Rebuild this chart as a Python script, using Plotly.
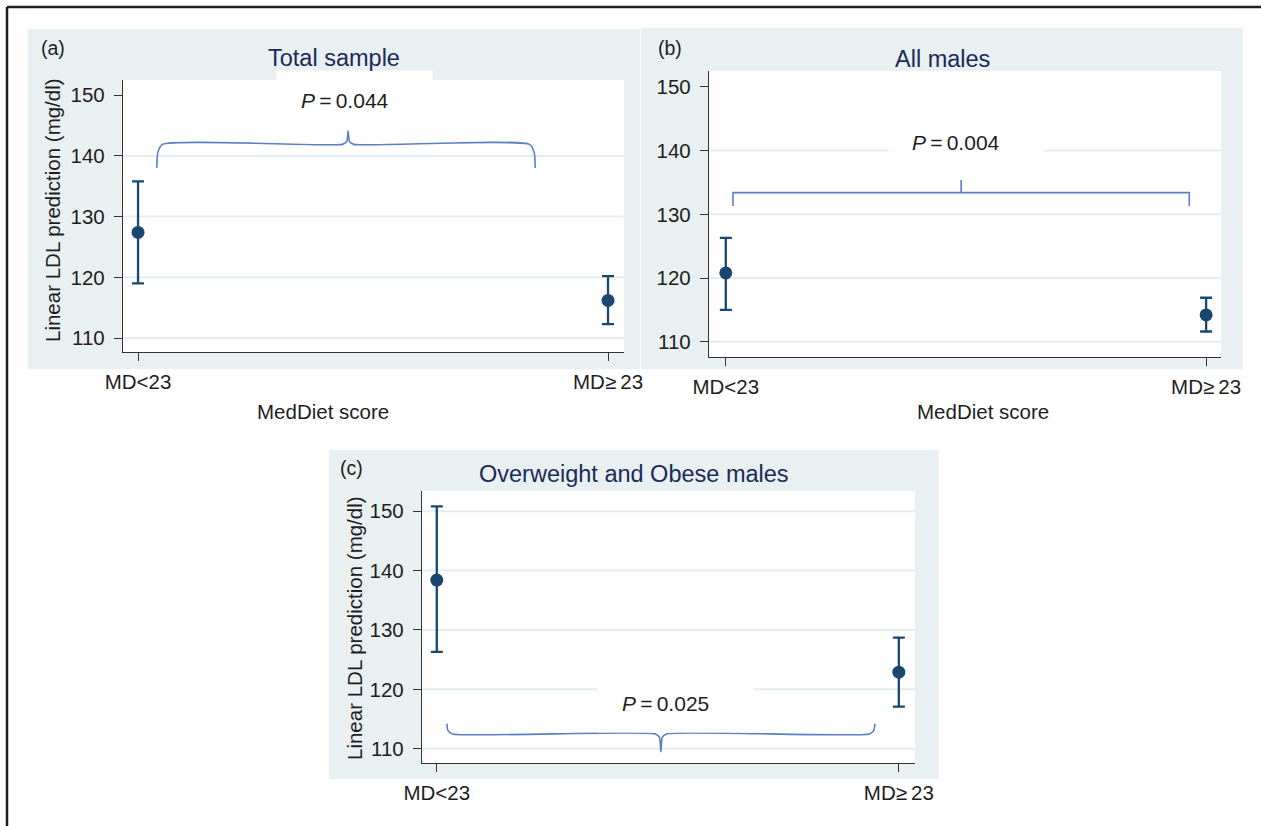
import plotly.graph_objects as go

# ---------------- data ----------------
categories = ["MD<23", "MD\u2265\u200923"]
cat_pos = [0, 1]
y_ticks = [110, 120, 130, 140, 150]

mean_a = [127.4, 116.2]
upper_a = [135.8, 120.2]
lower_a = [119.0, 112.3]

mean_b = [120.8, 114.2]
upper_b = [126.3, 116.9]
lower_b = [115.0, 111.6]

mean_c = [138.4, 122.9]
upper_c = [150.8, 128.7]
lower_c = [126.3, 117.1]

titles = ["Total sample", "All males", "Overweight and Obese males"]
panel_tags = ["(a)", "(b)", "(c)"]
p_labels = ["0.044", "0.004", "0.025"]
# P-value label positions (x in category units, y in mg/dl)
p_x = [0.44, 0.48, 0.495]
p_y = [149.2, 141.2, 117.7]
# brackets: left, right, centre, level, end, tip
bracket_a = [0.04, 0.845, 0.447, 141.9, 138.0, 144.1]
bracket_b = [0.015, 0.965, 0.49, 133.4, 131.3, 135.4]
bracket_c = [0.022, 0.948, 0.485, 112.5, 114.2, 109.5]
grid_a = [110, 120, 130, 140]
grid_b = [110, 120, 130, 140]
grid_c = [110, 120, 130, 140, 150]

# ---------------- style ----------------
W, H = 1261, 826
FONT = "Liberation Sans, Arial, Helvetica, sans-serif"
NAVY = "#1a476f"
BRACKET = "#5b7fc2"
BG = "#e8f0f2"
GRID = "#e4eef0"
TITLE_C = "#1c2a58"
TXT = "#1e1e1e"

def px(x):
    return x / W

def py(y):
    return 1 - y / H

fig = go.Figure()

panels = [
    dict(means=mean_a, up=upper_a, lo=lower_a, br=bracket_a, curly=True, grid=grid_a,
         xd=(123, 624), yd=(352, 80), xr=[-0.032, 1.034], yr=[107.7, 152.5],
         bg=(28, 29, 640, 369), xa="x", ya="y"),
    dict(means=mean_b, up=upper_b, lo=lower_b, br=bracket_b, curly=False, grid=grid_b,
         xd=(709, 1221), yd=(357, 71), xr=[-0.035, 1.031], yr=[107.6, 152.5],
         bg=(641, 28, 1243, 369), xa="x2", ya="y2"),
    dict(means=mean_c, up=upper_c, lo=lower_c, br=bracket_c, curly=True, grid=grid_c,
         xd=(422, 915), yd=(763, 491), xr=[-0.032, 1.035], yr=[107.6, 153.4],
         bg=(329, 450, 939, 779), xa="x3", ya="y3"),
]

bg_shapes = []
white_shapes = []
grid_shapes = []
annotations = []
layout_axes = {}

for i, p in enumerate(panels):
    xa, ya = p["xa"], p["ya"]
    fig.add_trace(go.Scatter(
        x=cat_pos, y=p["means"], mode="markers",
        marker=dict(color=NAVY, size=13),
        error_y=dict(type="data", symmetric=False,
                     array=[u - m for u, m in zip(p["up"], p["means"])],
                     arrayminus=[m - l for m, l in zip(p["means"], p["lo"])],
                     color=NAVY, thickness=2.3, width=6),
        xaxis=xa, yaxis=ya, showlegend=False, hoverinfo="skip"))
    xl, xr_, xc, lev, end, tip = p["br"]
    if p["curly"]:
        s = 1 if tip > lev else -1
        d = abs(lev - end)
        bx = [xl, xl + 0.002, xl + 0.012, xc - 0.012, xc - 0.003, xc,
              xc + 0.003, xc + 0.012, xr_ - 0.012, xr_ - 0.002, xr_]
        by = [end, lev - s * 0.35 * d, lev, lev, lev + s * 0.2 * abs(tip - lev), tip,
              lev + s * 0.2 * abs(tip - lev), lev, lev, lev - s * 0.35 * d, end]
        fig.add_trace(go.Scatter(x=bx, y=by, mode="lines",
                                 line=dict(color=BRACKET, width=1.6, shape="spline", smoothing=0.6),
                                 xaxis=xa, yaxis=ya, showlegend=False, hoverinfo="skip"))
    else:
        bx = [xl, xl, xc, xc, xc, xr_, xr_]
        by = [end, lev, lev, tip, lev, lev, end]
        fig.add_trace(go.Scatter(x=bx, y=by, mode="lines",
                                 line=dict(color=BRACKET, width=1.6),
                                 xaxis=xa, yaxis=ya, showlegend=False, hoverinfo="skip"))
    x0, y0, x1, y1 = p["bg"]
    bg_shapes.append(dict(type="rect", xref="paper", yref="paper", layer="below",
                          x0=px(x0), x1=px(x1), y0=py(y1), y1=py(y0),
                          fillcolor=BG, line=dict(width=0)))
    white_shapes.append(dict(type="rect", xref="paper", yref="paper", layer="below",
                             x0=px(p["xd"][0]), x1=px(p["xd"][1]),
                             y0=py(p["yd"][0]), y1=py(p["yd"][1]),
                             fillcolor="white", line=dict(width=0)))
    axn = xa[1:] if len(xa) > 1 else ""
    for g in p["grid"]:
        grid_shapes.append(dict(type="line", xref=f"x{axn} domain", yref=ya, layer="below",
                                x0=0, x1=1, y0=g, y1=g, line=dict(color=GRID, width=2)))
    ax_common = dict(showline=True, linecolor="#333333", linewidth=1.3, ticks="outside",
                     ticklen=8, tickwidth=1.2, tickcolor="#333333", showgrid=False,
                     zeroline=False, automargin=False,
                     tickfont=dict(family=FONT, size=20.5, color=TXT))
    xkey = "xaxis" + axn
    ykey = "yaxis" + axn
    layout_axes[xkey] = dict(ax_common, domain=[px(p["xd"][0]), px(p["xd"][1])],
                             range=p["xr"], tickvals=cat_pos, ticktext=categories,
                             anchor=ya, ticklabelstandoff=3)
    layout_axes[ykey] = dict(ax_common, domain=[py(p["yd"][0]), py(p["yd"][1])],
                             range=p["yr"], tickvals=y_ticks, anchor=xa, ticklabelstandoff=5)
    annotations.append(dict(x=p_x[i], y=p_y[i], xref=xa, yref=ya, text=" ", showarrow=False,
                            bgcolor="white", width=153, height=56, xshift=10,
                            font=dict(size=10)))
    annotations.append(dict(x=p_x[i], y=p_y[i], xref=xa, yref=ya,
                            text="<i>P</i>\u2009=\u2009" + p_labels[i], showarrow=False,
                            font=dict(family=FONT, size=21, color=TXT)))

title_pos = [(334, 58), (942, 59), (634, 474)]
tag_pos = [(53, 48), (670, 48), (351, 468)]
for i in range(3):
    annotations.append(dict(x=px(title_pos[i][0]), y=py(title_pos[i][1]), xref="paper", yref="paper",
                            text=titles[i], showarrow=False, xanchor="center", yanchor="middle",
                            font=dict(family=FONT, size=23.5, color=TITLE_C)))
    annotations.append(dict(x=px(tag_pos[i][0]), y=py(tag_pos[i][1]), xref="paper", yref="paper",
                            text=panel_tags[i], showarrow=False, xanchor="center", yanchor="middle",
                            font=dict(family=FONT, size=19.5, color=TXT)))

ytitle = "Linear LDL prediction (mg/dl)"
for (x, y) in [(52, 210), (354, 628)]:
    annotations.append(dict(x=px(x), y=py(y), xref="paper", yref="paper", text=ytitle,
                            textangle=-90, showarrow=False, xanchor="center", yanchor="middle",
                            font=dict(family=FONT, size=20.5, color=TXT)))
for (x, y) in [(323, 411), (983, 411)]:
    annotations.append(dict(x=px(x), y=py(y), xref="paper", yref="paper", text="MedDiet score",
                            showarrow=False, xanchor="center", yanchor="middle",
                            font=dict(family=FONT, size=20.5, color=TXT)))

frame = [
    dict(type="line", xref="paper", yref="paper", x0=px(7), x1=1, y0=py(7), y1=py(7),
         line=dict(color="#1e1e1e", width=2.5)),
    dict(type="line", xref="paper", yref="paper", x0=px(7), x1=px(7), y0=py(7), y1=0,
         line=dict(color="#1e1e1e", width=2.5)),
]

fig.update_layout(width=W, height=H, autosize=False,
                  margin=dict(l=0, r=0, t=0, b=0, pad=0, autoexpand=False),
                  paper_bgcolor="white", plot_bgcolor="white", showlegend=False,
                  shapes=bg_shapes + white_shapes + grid_shapes + frame,
                  annotations=annotations, **layout_axes)

fig.write_html("out.html", config={"responsive": False, "displayModeBar": False},
               include_plotlyjs=True, full_html=True,
               post_script="document.body.style.margin='0';")
